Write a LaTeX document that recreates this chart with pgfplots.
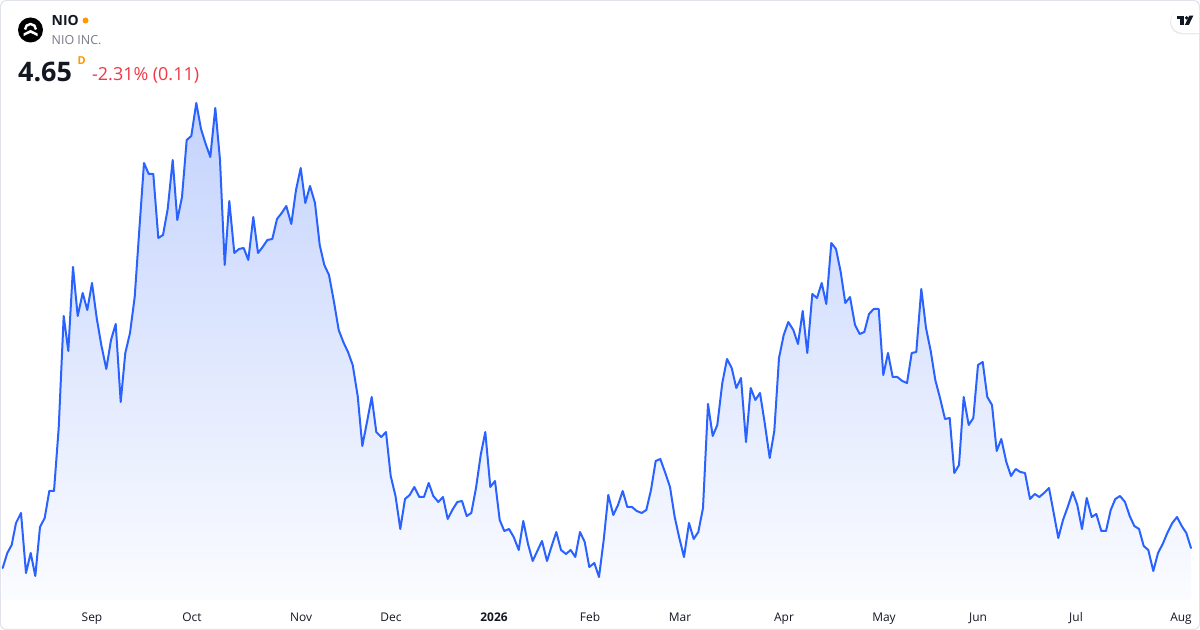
\documentclass[border=0pt]{standalone}
\usepackage{fontspec}
\setmainfont{Open Sans}
\usepackage{pgfplots}
\pgfplotsset{compat=1.18}
\usepackage{pgfplotstable}
\definecolor{tvblue}{HTML}{2962FF}
\definecolor{tvtext}{HTML}{131722}
\definecolor{tvgray}{HTML}{787B86}
\definecolor{tvred}{HTML}{F23645}
\definecolor{tvorange}{HTML}{FF9800}
\definecolor{tvborder}{HTML}{E0E3EB}
\definecolor{filltop}{RGB}{196,211,253}
\definecolor{fillbot}{RGB}{251,252,255}

\pgfplotstableread{
x y
2.7 32
7.3 47
11.7 55
16 77
21 87
26 27
30.7 47
35.3 24
40 73
44.7 82
49.3 109
54 109
58.7 172
63.7 284
68.3 249
73 333
77.7 284
82.7 307
87.3 290
92 317
96.7 282
101.3 255
106.3 231
111 260
115.7 276
120.7 198
125.3 247
130 267
134.7 303
139.3 370
144 437
148.7 426
153.3 426
158.3 362
163 365
167.7 391
172.7 440
177.3 380
182 403
186.7 460
191.3 464
196.3 497
201 471
205.7 456
210.3 443
215.3 492
220 440
224.7 335
229.3 399
234.3 347
239 351
243.7 352
248.3 340
253.3 383
258 347
262.7 353
267.3 360
272.3 361
277 381
281.7 387
286.3 394
291.3 376
296 410
300.7 432
305.3 397
310 414
315 397
319.7 355
324.3 335
329 325
334 298
338.7 270
343.3 258
348 248
352.7 235
357.7 204
362.3 154
367 178
371.7 203
376.3 168
381.3 163
386 168
390.7 124
395.5 104
400.3 71
405 101
409.7 105
414.3 113
419.3 103
424 103
428.7 117
433.3 104
438.3 98
443 103
447.7 81
452.3 90
457.3 98
462 99
466.7 84
471.3 87
476 112
480.7 145
485.3 168
490.3 113
495 119
499.7 80
504.3 69
509 71
513.7 63
518.7 50
523.3 79
528 56
532.7 39
537.3 49
542 59
547 39
551.7 54
556.3 68
561 50
566 46
570.7 50
575.3 43
580 68
584.7 58
589.3 33
594.3 37
599 23
603.7 60
608.3 105
613.3 85
618 95
622.7 109
627.3 93
632 93
636.7 89
641.7 87
646.3 90
651 110
655.7 139
660.3 141
665.3 127
670 113
674.7 83
679.3 62
684 43
689 77
693.7 61
698.3 68
703 92
708 196
712.7 164
717.3 175
722.3 217
727 241
731.7 232
736.3 212
741 222
746 158
750.7 212
755.3 200
760 207
764.7 177
769.7 142
774.3 169
779 242
783.7 265
788.3 278
793.3 270
798 256
802.7 289
807.3 247
812.3 306
817 302
821.7 317
826.3 296
831.3 357
836 351
840.7 328
845.3 297
850 303
855 275
859.7 266
864.3 268
869 286
873.7 291
878.7 291
883.3 225
888 247
892.7 223
897.3 223
902.3 219
907 217
911.7 247
916.3 248
921.3 311
926 272
930.7 249
935.3 220
940 202
945 181
949.7 182
954.3 127
959 135
963.7 203
968.7 175
973.3 182
978 235
982.7 238
987.3 203
992 195
996.7 149
1001.3 161
1006.3 138
1011 124
1015.7 131
1020.3 128
1025 127
1030 101
1034.7 106
1039.3 103
1044 107
1049 112
1053.7 87
1058.3 62
1063 80
1067.7 93
1072.7 108
1077.3 95
1082 71
1086.7 102
1091.7 83
1096.3 86
1101.3 69
1106 69
1110.7 90
1115.3 101
1120 104
1125 98
1129.7 84
1134.3 74
1139 71
1143.7 54
1148.3 50
1153.3 29
1158 47
1162.7 56
1167.3 67
1172.3 77
1177 83
1181.7 74
1186.3 67
1191 52
}\niodata

\begin{document}
\begin{tikzpicture}[x=1bp,y=1bp]
\useasboundingbox (0,-30) rectangle (1200,600);
\fill[white] (0,-30) rectangle (1200,600);
\begin{axis}[
  at={(0,0)}, anchor=south west,
  width=1200bp, height=600bp, scale only axis,
  xmin=0, xmax=1200, ymin=0, ymax=600,
  axis line style={draw=none},
  ytick=\empty,
  xtick={92,192,301,391,494,590,680,784,884,978,1076,1181},
  xticklabels={Sep,Oct,Nov,Dec,\textbf{2026},Feb,Mar,Apr,May,Jun,Jul,Aug},
  major tick length=0pt,
  tick style={draw=none},
  xticklabel style={font=\fontsize{12}{14}\selectfont, text=tvtext, anchor=base, yshift=-22bp, inner sep=0pt},
  clip=false,
]
\addplot[draw=none, top color=filltop, bottom color=fillbot] table[x=x,y=y]{\niodata} \closedcycle;
\addplot[tvblue, line width=2bp, line join=round, line cap=round, mark=none] table[x=x,y=y]{\niodata};
\end{axis}
% border
\draw[tvborder, line width=1bp, rounded corners=6bp] (0.5,-29.5) rectangle (1199.5,599.5);
% NIO logo
\fill[black] (30.5,570) circle[radius=12.5];
\draw[white, line width=2.4bp] (25,570.5) arc[start angle=180, end angle=0, radius=5.5];
\fill[white] (23.5,566.5) -- (30.5,570) -- (37.5,566.5) -- (37.5,563.8) -- (30.5,567.2) -- (23.5,563.8) -- cycle;
% header text
\node[anchor=base west, inner sep=0pt, text=tvtext, font=\fontsize{14}{16}\selectfont\bfseries] at (51.5,574) {NIO};
\fill[tvorange] (85.5,579.5) circle[radius=3];
\node[anchor=base west, inner sep=0pt, text=tvgray, font=\fontsize{12.5}{14}\selectfont] at (51.5,555) {NIO INC.};
\node[anchor=base west, inner sep=0pt, text=tvtext, font=\fontsize{27}{30}\selectfont\bfseries] at (18,518.5) {4.65};
\node[anchor=base west, inner sep=0pt, text=tvorange, font=\fontsize{11}{12}\selectfont\bfseries] at (77.5,535) {D};
\node[anchor=base west, inner sep=0pt, text=tvred, font=\fontsize{18}{20}\selectfont] at (92,519) {-2.31\% (0.11)};
% TradingView badge
\begin{scope}
\clip (0,-30) rectangle (1199,600);
\fill[black!8, rounded corners=12bp] (1170,565.5) rectangle (1215,590);
\fill[white, rounded corners=12bp] (1171,567) rectangle (1215,591);
\end{scope}
\fill[tvtext] (1176.5,584.3) rectangle (1183.5,580.8);
\fill[tvtext] (1180,584.3) rectangle (1183.5,575);
\fill[tvtext] (1186.6,582.2) circle[radius=1.9];
\fill[tvtext] (1189.3,584.3) -- (1193.3,584.3) -- (1188.8,575) -- (1184.8,575) -- cycle;
\end{tikzpicture}
\end{document}
